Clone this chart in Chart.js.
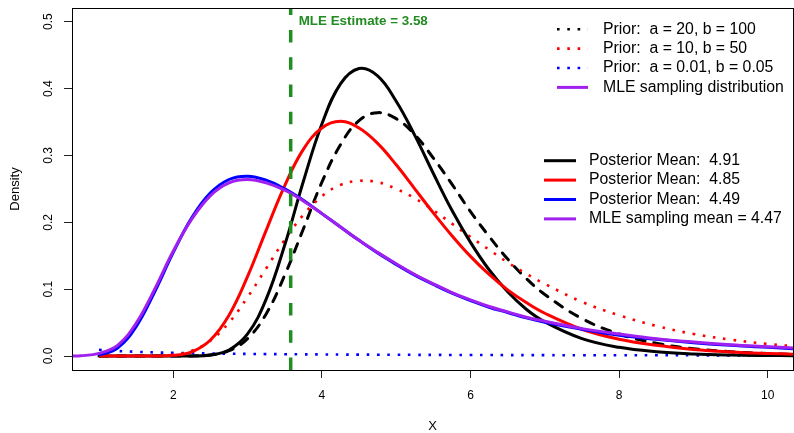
<!DOCTYPE html>
<html>
<head>
<meta charset="utf-8">
<title>Prior / posterior densities</title>
<script src="https://cdn.jsdelivr.net/npm/chart.js@4.4.0/dist/chart.umd.min.js"></script>
<style>
  body { margin: 0; background: #fff; }
  #wrap { width: 794px; height: 433px; }
</style>
</head>
<body>
<div id="wrap"><canvas id="myChart"></canvas></div>
<script>
// values
const xValues = [0.64, 0.75, 1, 1.25, 1.5, 1.75, 2, 2.25, 2.5, 2.75, 3, 3.25, 3.5, 3.75, 4, 4.25, 4.5, 4.75,
  5, 5.25, 5.5, 5.75, 6, 6.25, 6.5, 6.75, 7, 7.5, 8, 8.5, 9, 9.5, 10, 10.34];

const priorA20 = [null, null, 0, 0, 0, 0, 0, 0.0002, 0.0015, 0.0079, 0.026, 0.063, 0.121, 0.190, 0.260, 0.316, 0.352, 0.364,
  0.355, 0.331, 0.296, 0.257, 0.216, 0.179, 0.145, 0.116, 0.092, 0.056, 0.033, 0.019, 0.011, 0.0065, 0.0037, 0.0026];
const priorA10 = [null, null, 0, 0, 0, 0.0002, 0.0018, 0.008, 0.023, 0.050, 0.088, 0.131, 0.174, 0.211, 0.239, 0.256, 0.262, 0.260,
  0.250, 0.236, 0.218, 0.198, 0.178, 0.159, 0.140, 0.123, 0.108, 0.081, 0.061, 0.045, 0.033, 0.0245, 0.018, 0.0148];
const priorA001 = [null, null, 0.0093, 0.0075, 0.0063, 0.0054, 0.0047, 0.0042, 0.0038, 0.0035, 0.0032, 0.0029, 0.0027, 0.0025, 0.0024, 0.0022, 0.0021, 0.0020,
  0.0019, 0.0018, 0.0017, 0.0016, 0.0016, 0.0015, 0.0014, 0.0014, 0.0013, 0.0012, 0.0012, 0.0011, 0.00105, 0.0010, 0.00095, 0.00092];

const postA20 = [null, null, 0, 0, 0, 0, 0, 0.0001, 0.0015, 0.009, 0.033, 0.085, 0.166, 0.261, 0.347, 0.407, 0.430, 0.419,
  0.381, 0.330, 0.273, 0.218, 0.170, 0.129, 0.096, 0.070, 0.051, 0.026, 0.013, 0.0064, 0.0031, 0.0015, 0.0008, 0.0005];
const postA10 = [null, null, 0, 0, 0, 0, 0.001, 0.0063, 0.024, 0.061, 0.119, 0.188, 0.255, 0.309, 0.341, 0.351, 0.341, 0.318,
  0.286, 0.250, 0.214, 0.180, 0.149, 0.122, 0.099, 0.080, 0.064, 0.040, 0.025, 0.016, 0.0099, 0.0062, 0.0039, 0.0028];
const postA001 = [null, null, 0.0013, 0.012, 0.044, 0.096, 0.155, 0.207, 0.244, 0.264, 0.269, 0.263, 0.250, 0.233, 0.213, 0.193, 0.173, 0.154,
  0.137, 0.121, 0.107, 0.094, 0.083, 0.073, 0.065, 0.057, 0.0505, 0.040, 0.031, 0.025, 0.020, 0.016, 0.013, 0.011];
const mleDist = [0, 0.0003, 0.004, 0.016, 0.049, 0.100, 0.157, 0.205, 0.240, 0.259, 0.264, 0.259, 0.248, 0.232, 0.213, 0.193, 0.173, 0.155,
  0.138, 0.122, 0.108, 0.095, 0.084, 0.074, 0.066, 0.058, 0.052, 0.041, 0.033, 0.026, 0.021, 0.017, 0.014, 0.012];

const mleEstimate = 3.58;

const xTicks = [2, 4, 6, 8, 10];
const yTicks = [0, 0.1, 0.2, 0.3, 0.4, 0.5];
const yTickLabels = ['0.0', '0.1', '0.2', '0.3', '0.4', '0.5'];
const xRange = [0.637, 10.34];
const yRange = [-0.0209, 0.5205];

const priorLabels = ['Prior:  a = 20, b = 100', 'Prior:  a = 10, b = 50', 'Prior:  a = 0.01, b = 0.05', 'MLE sampling distribution'];
const meanLabels = ['Posterior Mean:  4.91', 'Posterior Mean:  4.85', 'Posterior Mean:  4.49', 'MLE sampling mean = 4.47'];
const legendColors = ['#000000', '#ff0000', '#0000ff', '#a020f0'];

Chart.defaults.font.family = "'Liberation Sans', Arial, sans-serif";
Chart.defaults.color = '#000';

function points(ys) {
  return xValues.map((x, i) => ({x: x, y: ys[i]})).filter(p => p.y !== null);
}

const dotted = [2.6, 7.7];

// legends, MLE text and the box round the plot
const extras = {
  id: 'extras',
  afterDraw(chart) {
    const {ctx, chartArea: a, scales} = chart;
    ctx.save();
    ctx.strokeStyle = '#000';
    ctx.lineWidth = 1;
    ctx.strokeRect(a.left + 0.5, a.top + 0.5, a.right - a.left, a.bottom - a.top);

    ctx.fillStyle = '#228b22';
    ctx.font = "bold 13.4px 'Liberation Sans', Arial, sans-serif";
    ctx.textBaseline = 'alphabetic';
    ctx.textAlign = 'left';
    ctx.fillText('MLE Estimate = ' + mleEstimate.toFixed(2), scales.x.getPixelForValue(mleEstimate) + 8, a.top + 17);

    ctx.font = "15.8px 'Liberation Sans', Arial, sans-serif";
    ctx.textBaseline = 'middle';
    // first legend: priors
    priorLabels.forEach((txt, i) => {
      const y = a.top + 21.2 + i * 19.4;
      ctx.beginPath();
      ctx.strokeStyle = legendColors[i];
      ctx.lineWidth = i < 3 ? 2.6 : 3;
      ctx.setLineDash(i < 3 ? dotted : []);
      ctx.moveTo(a.right - 236, y);
      ctx.lineTo(a.right - 205, y);
      ctx.stroke();
      ctx.fillStyle = '#000';
      ctx.fillText(txt, a.right - 190, y);
    });
    // second legend: posterior means
    ctx.setLineDash([]);
    meanLabels.forEach((txt, i) => {
      const y = a.top + 152.7 + i * 19.4;
      ctx.beginPath();
      ctx.strokeStyle = legendColors[i];
      ctx.lineWidth = 3;
      ctx.moveTo(a.right - 249, y);
      ctx.lineTo(a.right - 217, y);
      ctx.stroke();
      ctx.fillStyle = '#000';
      ctx.fillText(txt, a.right - 204, y);
    });
    ctx.restore();
  }
};

const data = {
  datasets: [
    {label: meanLabels[3], data: points(mleDist), borderColor: '#a020f0', borderWidth: 3, order: 1},
    {label: meanLabels[2], data: points(postA001), borderColor: '#0000ff', borderWidth: 3, order: 2},
    {label: meanLabels[1], data: points(postA10), borderColor: '#ff0000', borderWidth: 3, order: 3},
    {label: meanLabels[0], data: points(postA20), borderColor: '#000000', borderWidth: 3, order: 4},
    {label: priorLabels[1], data: points(priorA10), borderColor: '#ff0000', borderWidth: 2.6, borderDash: dotted, order: 5},
    {label: priorLabels[0], data: points(priorA20), borderColor: '#000000', borderWidth: 3, borderDash: [9, 9], borderCapStyle: 'round', order: 6},
    {label: priorLabels[2], data: points(priorA001), borderColor: '#0000ff', borderWidth: 2.6, borderDash: dotted, order: 7},
    {label: 'MLE', data: [{x: mleEstimate, y: yRange[0]}, {x: mleEstimate, y: yRange[1]}],
      borderColor: '#228b22', borderWidth: 3.5, borderDash: [12.5, 14.8], tension: 0, order: 0}
  ]
};

const config = {
  type: 'line',
  data: data,
  options: {
    responsive: true,
    maintainAspectRatio: false,
    animation: false,
    layout: {padding: {top: 8, right: 1, left: 0, bottom: 0}},
    elements: {
      point: {radius: 0},
      line: {tension: 0.4, fill: false}
    },
    datasets: {line: {clip: 0}},
    plugins: {
      legend: {display: false},
      tooltip: {enabled: false}
    },
    scales: {
      x: {
        type: 'linear',
        min: xRange[0],
        max: xRange[1],
        afterBuildTicks: s => { s.ticks = xTicks.map(v => ({value: v})); },
        afterFit: s => { s.height = 63; s.paddingLeft = 0; s.paddingRight = 0; },
        ticks: {
          font: {size: 12},
          color: '#000',
          padding: 10,
          maxRotation: 0,
          autoSkip: false,
          callback: (v, i) => String(xTicks[i])
        },
        grid: {drawOnChartArea: false, drawTicks: true, tickLength: 8, color: '#222'},
        border: {display: false},
        title: {display: true, text: 'X', color: '#000', font: {size: 13, lineHeight: 1}, padding: {top: 0, bottom: 0}}
      },
      y: {
        min: yRange[0],
        max: yRange[1],
        afterBuildTicks: s => { s.ticks = yTicks.map(v => ({value: v})); },
        afterFit: s => { s.width = 72; s.paddingTop = 0; s.paddingBottom = 0; },
        ticks: {
          font: {size: 12},
          color: '#000',
          padding: 7,
          minRotation: 90,
          maxRotation: 90,
          crossAlign: 'center',
          autoSkip: false,
          callback: (v, i) => yTickLabels[i]
        },
        grid: {drawOnChartArea: false, drawTicks: true, tickLength: 8, color: '#222'},
        border: {display: false},
        title: {display: true, text: 'Density', color: '#000', font: {size: 13, lineHeight: 1}, padding: {top: 8.5, bottom: 0}}
      }
    }
  },
  plugins: [extras]
};

const chartDOM = document.getElementById('myChart');
new Chart(chartDOM, config);
</script>
</body>
</html>
